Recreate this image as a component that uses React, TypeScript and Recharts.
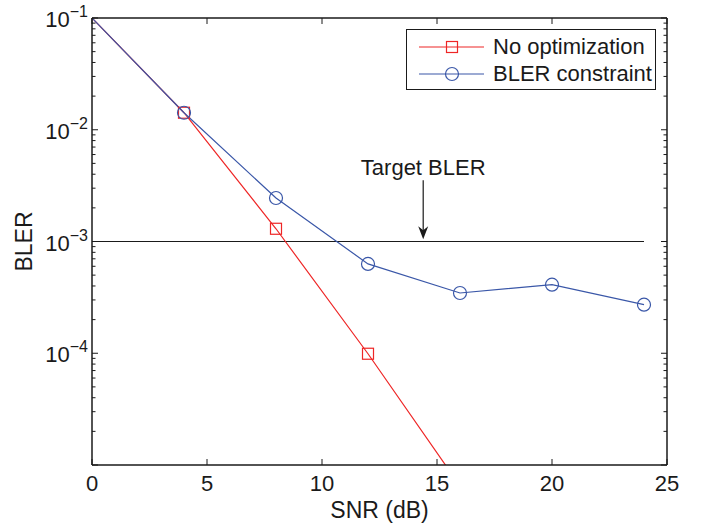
import React from "react";
import { LineChart, Line, XAxis, YAxis, ReferenceLine, ReferenceDot, Label } from "recharts";

// values (BLER is on a log axis)
const snr = [0, 4, 8, 12, 16, 20, 24];
const noOptimization = [0.1, 0.0142, 0.0013, 0.000099, 0.0000065, null, null];
const blerConstraint = [0.1, 0.0142, 0.00245, 0.00063, 0.000346, 0.000411, 0.000272];
const targetBler = 0.001;

const xTicks = [0, 5, 10, 15, 20, 25];
const yDecades = [1e-5, 1e-4, 1e-3, 1e-2, 1e-1];
const yLabelledExponents = [-1, -2, -3, -4];
const minorSteps = [2, 3, 4, 5, 6, 7, 8, 9];

const yTicks = [
  ...yDecades,
  ...yDecades.slice(0, -1).flatMap((d) => minorSteps.map((m) => m * d)),
];

const rows = snr.map((s, i) => ({
  snr: s,
  noOpt: noOptimization[i],
  bler: blerConstraint[i],
  target: targetBler,
}));

const RED = "#ee2626";
const BLUE = "#3a57a8";
const AXIS = "#1a1a1a";
const FONT = "'Liberation Sans', Arial, Helvetica, sans-serif";

const series = [
  { key: "noOpt", name: "No optimization", color: RED, marker: "square" },
  { key: "bler", name: "BLER constraint", color: BLUE, marker: "circle" },
];

const isDecade = (v: number) => {
  const e = Math.log10(v);
  return Math.abs(e - Math.round(e)) < 1e-6;
};

const Marker = ({ kind, cx, cy, color }: any) =>
  kind === "square" ? (
    <rect x={cx - 5.5} y={cy - 5.5} width={11} height={11} fill="none" stroke={color} strokeWidth={1.2} />
  ) : (
    <circle cx={cx} cy={cy} r={6.5} fill="none" stroke={color} strokeWidth={1.2} />
  );

const makeDot = (kind: string, color: string) => (p: any) => {
  if (p.cy == null || p.payload?.snr === 0) return <g key={p.index} />;
  return <Marker key={p.index} kind={kind} cx={p.cx} cy={p.cy} color={color} />;
};

const LeftTick = ({ x, y, payload }: any) => {
  const major = isDecade(payload.value);
  const exp = Math.round(Math.log10(payload.value));
  return (
    <g>
      <line x1={x} x2={x + (major ? 6 : 3.5)} y1={y} y2={y} stroke={AXIS} strokeWidth={1} />
      {major && yLabelledExponents.includes(exp) && (
        <text x={x - 4} y={y + 9} textAnchor="end" fontSize={22} fontFamily={FONT} fill={AXIS}>
          10
          <tspan dy={-10} fontSize={16}>{`\u2212${-exp}`}</tspan>
        </text>
      )}
    </g>
  );
};

const RightTick = ({ x, y, payload }: any) => {
  const major = isDecade(payload.value);
  return <line x1={x - (major ? 6 : 3.5)} x2={x} y1={y} y2={y} stroke={AXIS} strokeWidth={1} />;
};

const BottomTick = ({ x, y, payload }: any) => (
  <g>
    <line x1={x} x2={x} y1={y} y2={y - 6} stroke={AXIS} strokeWidth={1} />
    <text x={x} y={y + 26} textAnchor="middle" fontSize={22} fontFamily={FONT} fill={AXIS}>
      {payload.value}
    </text>
  </g>
);

const TopTick = ({ x, y }: any) => <line x1={x} x2={x} y1={y} y2={y + 6} stroke={AXIS} strokeWidth={1} />;

const ChartLegend = () => (
  <div
    style={{
      position: "absolute",
      left: 406,
      top: 29,
      width: 248,
      height: 59,
      border: `1.5px solid ${AXIS}`,
      background: "#fff",
      fontFamily: FONT,
      fontSize: 22,
      color: AXIS,
    }}
  >
    {series.map((s, i) => (
      <div key={s.key} style={{ position: "absolute", left: 0, top: 4 + i * 27, height: 26, display: "flex", alignItems: "center", whiteSpace: "nowrap" }}>
        <svg width={86} height={26}>
          <line x1={12} x2={77} y1={13} y2={13} stroke={s.color} strokeWidth={1.2} />
          <Marker kind={s.marker} cx={45} cy={13} color={s.color} />
        </svg>
        <span style={{ lineHeight: "26px" }}>{s.name}</span>
      </div>
    ))}
  </div>
);

export default function App() {
  return (
    <div style={{ position: "absolute", left: 0, top: 0, width: 701, height: 523, background: "#fff" }}>
      <LineChart width={701} height={523} data={rows} margin={{ top: 8, right: 24, bottom: 28, left: 32 }}>
        <XAxis
          dataKey="snr"
          type="number"
          domain={[0, 25]}
          ticks={xTicks}
          interval={0}
          height={30}
          tickSize={0}
          tickMargin={0}
          tick={<BottomTick />}
          axisLine={{ stroke: AXIS, strokeWidth: 1.5 }}
          allowDataOverflow
        >
          <Label
            content={({ viewBox }: any) => (
              <text x={viewBox.x + viewBox.width / 2} y={viewBox.y + 53} textAnchor="middle" fontSize={23} fontFamily={FONT} fill={AXIS}>
                SNR (dB)
              </text>
            )}
          />
        </XAxis>
        <XAxis
          xAxisId="top"
          orientation="top"
          dataKey="snr"
          type="number"
          domain={[0, 25]}
          ticks={xTicks}
          interval={0}
          height={10}
          tickSize={0}
          tickMargin={0}
          tick={<TopTick />}
          axisLine={{ stroke: AXIS, strokeWidth: 1.5 }}
          allowDataOverflow
        />
        <YAxis
          type="number"
          scale="log"
          domain={[1e-5, 1e-1]}
          ticks={yTicks}
          interval={0}
          width={60}
          tickSize={0}
          tickMargin={0}
          tick={<LeftTick />}
          axisLine={{ stroke: AXIS, strokeWidth: 1.5 }}
          allowDataOverflow
        >
          <Label
            content={({ viewBox }: any) => {
              const cx = viewBox.x;
              const cy = viewBox.y + viewBox.height / 2;
              return (
                <text x={cx} y={cy} transform={`rotate(-90, ${cx}, ${cy})`} textAnchor="middle" fontSize={23} fontFamily={FONT} fill={AXIS}>
                  BLER
                </text>
              );
            }}
          />
        </YAxis>
        <YAxis
          yAxisId="right"
          orientation="right"
          type="number"
          scale="log"
          domain={[1e-5, 1e-1]}
          ticks={yTicks}
          interval={0}
          width={10}
          tickSize={0}
          tickMargin={0}
          tick={<RightTick />}
          axisLine={{ stroke: AXIS, strokeWidth: 1.5 }}
          allowDataOverflow
        />

        <Line
          xAxisId="top"
          yAxisId="right"
          dataKey="target"
          stroke={AXIS}
          strokeWidth={1.2}
          dot={false}
          activeDot={false}
          isAnimationActive={false}
        />
        {series.map((s) => (
          <Line
            key={s.key}
            dataKey={s.key}
            name={s.name}
            stroke={s.color}
            strokeWidth={1.2}
            dot={makeDot(s.marker, s.color)}
            activeDot={false}
            isAnimationActive={false}
          />
        ))}

        {/* "Target BLER" annotation with arrow */}
        <ReferenceLine
          segment={[
            { x: 14.4, y: 0.00353 },
            { x: 14.4, y: 0.00115 },
          ]}
          stroke={AXIS}
          strokeWidth={1.2}
        />
        <ReferenceDot
          x={14.4}
          y={0.00105}
          shape={(p: any) => (
            <polygon
              points={`${p.cx},${p.cy} ${p.cx - 5},${p.cy - 13} ${p.cx},${p.cy - 9} ${p.cx + 5},${p.cy - 13}`}
              fill={AXIS}
            />
          )}
        />
        <ReferenceDot
          x={14.4}
          y={0.00453}
          shape={(p: any) => (
            <text x={p.cx} y={p.cy + 7} textAnchor="middle" fontSize={22} fontFamily={FONT} fill={AXIS}>
              Target BLER
            </text>
          )}
        />
      </LineChart>
      <ChartLegend />
    </div>
  );
}
